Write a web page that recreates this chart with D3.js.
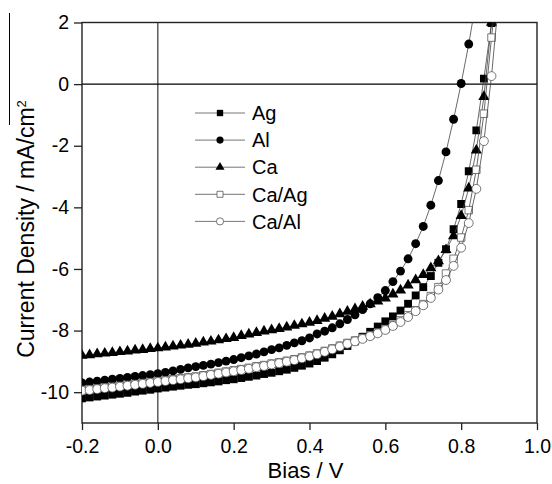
<!DOCTYPE html>
<html>
<head>
<meta charset="utf-8">
<script src="https://cdn.jsdelivr.net/npm/d3@7"></script>
<style>
  body { margin: 0; background: #fff; }
  text { font-family: "Liberation Sans", Arial, sans-serif; fill: #000; }
</style>
</head>
<body>
<div id="chart"></div>
<script>
'use strict'

// bias points (V), 0.02 V steps
const bias = [-0.20, -0.18, -0.16, -0.14, -0.12, -0.10, -0.08, -0.06, -0.04, -0.02,
    0.00, 0.02, 0.04, 0.06, 0.08, 0.10, 0.12, 0.14, 0.16, 0.18,
    0.20, 0.22, 0.24, 0.26, 0.28, 0.30, 0.32, 0.34, 0.36, 0.38,
    0.40, 0.42, 0.44, 0.46, 0.48, 0.50, 0.52, 0.54, 0.56, 0.58,
    0.60, 0.62, 0.64, 0.66, 0.68, 0.70, 0.72, 0.74, 0.76, 0.78,
    0.80, 0.82, 0.84, 0.86, 0.88, 0.90];

// current density (mA/cm2) for each cathode
const ag = [-10.20, -10.17, -10.14, -10.11, -10.08, -10.05, -10.02, -9.98, -9.95, -9.92,
    -9.88, -9.85, -9.82, -9.79, -9.76, -9.74, -9.71, -9.68, -9.65, -9.61,
    -9.58, -9.54, -9.50, -9.46, -9.41, -9.37, -9.32, -9.27, -9.21, -9.14,
    -9.07, -8.99, -8.88, -8.77, -8.64, -8.50, -8.35, -8.20, -8.04, -7.87,
    -7.70, -7.54, -7.35, -7.13, -6.86, -6.59, -6.23, -5.80, -5.36, -4.71,
    -3.89, -2.83, -1.50, 0.18, 1.98, 3.9];
const al = [-9.70, -9.67, -9.64, -9.61, -9.58, -9.55, -9.52, -9.49, -9.46, -9.43,
    -9.40, -9.36, -9.31, -9.26, -9.21, -9.17, -9.13, -9.09, -9.04, -8.99,
    -8.94, -8.88, -8.82, -8.76, -8.69, -8.62, -8.56, -8.48, -8.40, -8.33,
    -8.24, -8.11, -8.02, -7.91, -7.78, -7.64, -7.49, -7.32, -7.13, -6.93,
    -6.70, -6.41, -6.07, -5.67, -5.18, -4.62, -3.93, -3.13, -2.20, -1.14,
    0.02, 1.30, 2.75];
const ca = [-8.81, -8.79, -8.76, -8.74, -8.72, -8.69, -8.67, -8.64, -8.62, -8.59,
    -8.57, -8.54, -8.51, -8.48, -8.45, -8.42, -8.38, -8.35, -8.31, -8.27,
    -8.23, -8.17, -8.12, -8.07, -8.02, -7.98, -7.94, -7.89, -7.84, -7.79,
    -7.74, -7.68, -7.61, -7.54, -7.46, -7.38, -7.30, -7.22, -7.14, -7.05,
    -6.95, -6.82, -6.69, -6.53, -6.36, -6.19, -5.97, -5.74, -5.38, -4.93,
    -4.27, -3.38, -2.15, -0.41, 2.0];
const caAg = [-9.92, -9.90, -9.87, -9.84, -9.82, -9.79, -9.76, -9.73, -9.70, -9.67,
    -9.64, -9.61, -9.58, -9.55, -9.52, -9.49, -9.45, -9.41, -9.37, -9.33,
    -9.29, -9.25, -9.21, -9.16, -9.12, -9.07, -9.03, -8.98, -8.93, -8.87,
    -8.81, -8.74, -8.66, -8.58, -8.49, -8.40, -8.32, -8.24, -8.15, -8.06,
    -7.95, -7.82, -7.67, -7.50, -7.34, -7.14, -6.88, -6.59, -6.15, -5.67,
    -4.98, -4.09, -2.78, -0.96, 1.51, 3.8];
const caAl = [-9.95, -9.93, -9.90, -9.87, -9.85, -9.82, -9.79, -9.76, -9.73, -9.70,
    -9.67, -9.64, -9.61, -9.58, -9.55, -9.52, -9.48, -9.44, -9.40, -9.36,
    -9.32, -9.28, -9.24, -9.19, -9.15, -9.10, -9.06, -9.01, -8.96, -8.90,
    -8.84, -8.77, -8.69, -8.61, -8.52, -8.43, -8.35, -8.27, -8.18, -8.09,
    -7.98, -7.85, -7.72, -7.56, -7.37, -7.18, -6.94, -6.67, -6.36, -5.90,
    -5.31, -4.51, -3.40, -1.85, 0.26, 2.9];

const seriesNames = ['Ag', 'Al', 'Ca', 'Ca/Ag', 'Ca/Al'];
const xTicks = [-0.2, 0.0, 0.2, 0.4, 0.6, 0.8, 1.0];
const yTicks = [2, 0, -2, -4, -6, -8, -10];

const series = [
    { name: seriesNames[0], values: ag, shape: d3.symbolSquare, size: 62, open: false },
    { name: seriesNames[1], values: al, shape: d3.symbolCircle, size: 62, open: false },
    { name: seriesNames[2], values: ca, shape: d3.symbolTriangle, size: 54, open: false },
    { name: seriesNames[3], values: caAg, shape: d3.symbolSquare, size: 56, open: true },
    { name: seriesNames[4], values: caAl, shape: d3.symbolCircle, size: 62, open: true }
];

const W = 552, H = 484,
    margin = { top: 22.5, right: 15, bottom: 61, left: 82 },
    width = W - margin.left - margin.right,
    height = H - margin.top - margin.bottom;

let svg = d3.select('#chart').append('svg')
    .attr('width', W)
    .attr('height', H);

let x = d3.scaleLinear().domain([-0.2, 1.0]).range([0, width]),
    y = d3.scaleLinear().domain([-11, 2]).range([height, 0]);

let g = svg.append('g')
    .attr('transform', 'translate(' + margin.left + ',' + margin.top + ')');

g.append('defs').append('clipPath')
    .attr('id', 'plotclip')
    .append('rect')
    .attr('width', width)
    .attr('height', height);

// zero lines
g.append('line')
    .attr('x1', x(0)).attr('x2', x(0))
    .attr('y1', 0).attr('y2', height)
    .attr('stroke', '#333').attr('stroke-width', 1.2);
g.append('line')
    .attr('x1', 0).attr('x2', width)
    .attr('y1', y(0)).attr('y2', y(0))
    .attr('stroke', '#000').attr('stroke-width', 1.2);

// axes
let xAxis = g.append('g')
    .attr('transform', 'translate(0,' + height + ')')
    .call(d3.axisBottom(x).tickValues(xTicks).tickSize(7).tickSizeOuter(0).tickPadding(9));
let yAxis = g.append('g')
    .call(d3.axisLeft(y).tickValues(yTicks).tickSize(8).tickSizeOuter(0).tickPadding(5));
// plain hyphen minus signs, as in the original
xAxis.selectAll('.tick text').text(d => d3.format('.1f')(d).replace('−', '-'));
yAxis.selectAll('.tick text').text(d => d3.format('d')(d).replace('−', '-'));

[xAxis, yAxis].forEach(a => {
    a.select('.domain').remove();
    a.selectAll('.tick line').attr('stroke', '#222').attr('stroke-width', 1.3);
    a.selectAll('.tick text').style('font-size', '19.5px').attr('fill', '#000');
});

// frame
g.append('rect')
    .attr('width', width)
    .attr('height', height)
    .attr('fill', 'none')
    .attr('stroke', '#222')
    .attr('stroke-width', 1.4);

// curves
let line = d3.line()
    .x(d => x(d[0]))
    .y(d => y(d[1]));

let plot = g.append('g').attr('clip-path', 'url(#plotclip)');

series.forEach(s => {
    let pts = s.values.map((v, i) => [bias[i], v]);
    plot.append('path')
        .datum(pts)
        .attr('fill', 'none')
        .attr('stroke', '#444')
        .attr('stroke-width', 0.8)
        .attr('d', line);
    plot.selectAll(null)
        .data(pts)
        .enter().append('path')
        .attr('transform', d => 'translate(' + x(d[0]) + ',' + y(d[1]) + ')')
        .attr('d', d3.symbol().type(s.shape).size(s.size))
        .attr('fill', s.open ? '#fff' : '#000')
        .attr('stroke', s.open ? '#555' : 'none')
        .attr('stroke-width', 0.8);
});

// legend
let legend = g.append('g')
    .attr('transform', 'translate(' + (195 - margin.left) + ',' + (113 - margin.top) + ')');
series.forEach((s, i) => {
    let row = legend.append('g').attr('transform', 'translate(0,' + (i * 27.1) + ')');
    row.append('line')
        .attr('x1', 0).attr('x2', 50)
        .attr('stroke', '#666').attr('stroke-width', 0.9);
    row.append('path')
        .attr('transform', 'translate(25,0)')
        .attr('d', d3.symbol().type(s.shape).size(s.size * 0.65))
        .attr('fill', s.open ? '#fff' : '#000')
        .attr('stroke', s.open ? '#555' : 'none')
        .attr('stroke-width', 0.8);
    row.append('text')
        .attr('x', 57)
        .attr('dy', '0.36em')
        .style('font-size', '20px')
        .text(s.name);
});

// axis titles
svg.append('text')
    .attr('x', margin.left + width / 2 - 4)
    .attr('y', 478)
    .attr('text-anchor', 'middle')
    .style('font-size', '22px')
    .text('Bias / V');

let yTitle = svg.append('text')
    .attr('transform', 'translate(34,229) rotate(-90)')
    .attr('text-anchor', 'middle')
    .style('font-size', '23px');
yTitle.append('tspan').text('Current Density / mA/cm');
yTitle.append('tspan').attr('dy', '-0.6em').style('font-size', '13px').text('2');

// stray overline from the original title
svg.append('line')
    .attr('x1', 9.5).attr('x2', 9.5)
    .attr('y1', 13).attr('y2', 125)
    .attr('stroke', '#000').attr('stroke-width', 1);
</script>
</body>
</html>
